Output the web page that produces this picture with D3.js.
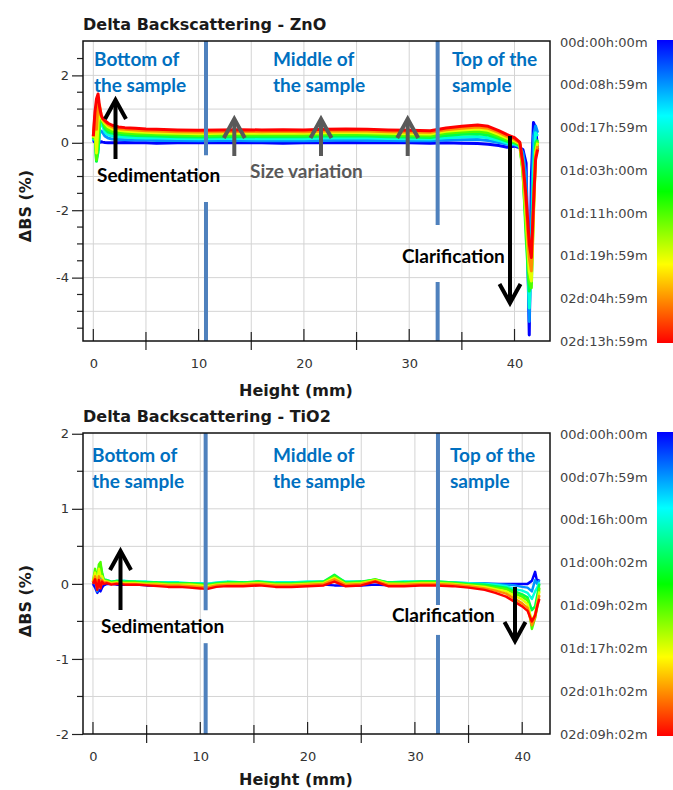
<!DOCTYPE html>
<html>
<head>
<meta charset="utf-8">
<script src="https://cdn.jsdelivr.net/npm/d3@7"></script>
<style>
body { margin: 0; background: #fff; }
svg { display: block; }
.ttl { font-family: "DejaVu Sans", sans-serif; font-weight: bold; font-size: 16px; fill: #1a1a1a; }
.axlab { font-family: "DejaVu Sans", sans-serif; font-weight: bold; font-size: 16px; fill: #1a1a1a; }
.tick text { font-family: "DejaVu Sans", sans-serif; font-size: 13px; fill: #333; }
.tl { font-family: "DejaVu Sans", sans-serif; font-size: 13px; fill: #444; }
.note { font-family: Lato, sans-serif; font-weight: bold; font-size: 19px; }
</style>
</head>
<body>
<svg width="673" height="790"></svg>
<script>
// ---- ZnO profiles (height in mm, delta BS in %) ----
var zno_heights = [0, 0.15, 0.3, 0.45, 0.6, 0.75, 0.9, 1.1, 1.4, 1.8, 2.4, 3, 4, 5, 6, 8, 10, 12, 14, 16, 18, 20, 22, 24, 26, 28, 30, 32, 33.5, 35, 36.5, 37.5, 38.5, 39.3, 40, 40.5, 40.8, 41.1, 41.4, 41.6, 41.8, 42, 42.2];
var zno_p0 = [0.0, 0.05, -0.1, -0.05, 0.02, 0.03, 0.02, 0.01, 0.0, 0.0, 0.0, 0.01, 0.0, 0.0, -0.01, 0.0, 0.0, 0.01, 0.0, 0.0, -0.01, 0.0, 0.0, 0.01, 0.0, 0.0, 0.0, -0.01, 0.0, -0.01, -0.02, -0.04, -0.08, -0.13, -0.1, -0.15, -0.2, -0.6, -5.7, -1.0, 0.6, 0.45, -0.2];
var zno_p1 = [0.05, 0.2, -0.3, -0.2, 0.3, 0.35, 0.3, 0.2, 0.14, 0.11, 0.1, 0.09, 0.08, 0.08, 0.07, 0.07, 0.06, 0.07, 0.07, 0.06, 0.07, 0.06, 0.07, 0.08, 0.07, 0.07, 0.06, 0.06, 0.08, 0.09, 0.1, 0.07, 0.01, -0.04, -0.06, -0.12, -0.3, -1.0, -5.3, -2.5, 0.2, 0.5, 0.3];
var zno_p2 = [0.08, 0.3, -0.45, -0.3, 0.5, 0.6, 0.48, 0.32, 0.24, 0.2, 0.18, 0.17, 0.15, 0.14, 0.14, 0.13, 0.12, 0.13, 0.13, 0.12, 0.13, 0.12, 0.14, 0.15, 0.14, 0.13, 0.12, 0.11, 0.15, 0.17, 0.19, 0.15, 0.07, -0.01, -0.03, -0.1, -0.5, -2.0, -4.9, -3.5, -0.8, 0.3, 0.2];
var zno_p3 = [0.1, 0.4, -0.55, -0.2, 0.65, 0.72, 0.6, 0.42, 0.32, 0.28, 0.25, 0.24, 0.22, 0.21, 0.2, 0.18, 0.17, 0.18, 0.19, 0.18, 0.19, 0.18, 0.2, 0.21, 0.2, 0.18, 0.17, 0.16, 0.22, 0.25, 0.27, 0.23, 0.13, 0.04, 0.0, -0.08, -0.8, -2.8, -4.4, -4.0, -1.6, 0.0, 0.1];
var zno_p4 = [0.12, 0.5, -0.5, 0.1, 0.8, 0.7, 0.62, 0.5, 0.4, 0.34, 0.31, 0.29, 0.27, 0.26, 0.25, 0.23, 0.22, 0.23, 0.24, 0.23, 0.24, 0.23, 0.25, 0.26, 0.25, 0.23, 0.22, 0.21, 0.28, 0.32, 0.34, 0.3, 0.19, 0.09, 0.03, -0.05, -0.9, -2.5, -4.1, -4.3, -2.0, -0.2, 0.05];
var zno_p5 = [0.15, 0.6, -0.3, 0.6, 1.0, 0.75, 0.66, 0.58, 0.48, 0.41, 0.37, 0.35, 0.33, 0.31, 0.3, 0.28, 0.27, 0.28, 0.29, 0.28, 0.29, 0.28, 0.3, 0.31, 0.3, 0.28, 0.27, 0.26, 0.34, 0.38, 0.41, 0.37, 0.25, 0.14, 0.06, -0.03, -0.8, -2.2, -3.8, -4.1, -2.2, -0.3, 0.0];
var zno_p6 = [0.18, 0.8, 0.4, 1.2, 1.1, 0.8, 0.7, 0.62, 0.54, 0.47, 0.42, 0.4, 0.38, 0.36, 0.35, 0.33, 0.32, 0.33, 0.34, 0.33, 0.34, 0.33, 0.35, 0.36, 0.35, 0.33, 0.32, 0.31, 0.39, 0.43, 0.47, 0.43, 0.31, 0.19, 0.1, 0.0, -0.7, -1.9, -3.4, -3.8, -2.0, -0.4, -0.1];
var zno_p7 = [0.2, 0.9, 1.3, 1.45, 1.05, 0.82, 0.72, 0.66, 0.58, 0.52, 0.47, 0.45, 0.43, 0.41, 0.4, 0.38, 0.37, 0.38, 0.39, 0.38, 0.39, 0.38, 0.4, 0.41, 0.4, 0.38, 0.37, 0.36, 0.44, 0.49, 0.53, 0.49, 0.36, 0.24, 0.15, 0.02, -0.6, -1.6, -3.0, -3.4, -1.8, -0.5, -0.2];
var zno_times = ['00d:00h:00m', '00d:08h:59m', '00d:17h:59m', '01d:03h:00m', '01d:11h:00m', '01d:19h:59m', '02d:04h:59m', '02d:13h:59m'];
var zno_yticks = [2, 0, -2, -4];

// ---- TiO2 profiles ----
var tio2_heights = [0, 0.2, 0.4, 0.55, 0.7, 0.85, 1.0, 1.3, 1.7, 2.2, 3, 4, 5, 6, 7, 8, 9, 10, 10.6, 11.5, 12.5, 14, 15.5, 17, 18.5, 20, 21.5, 22.5, 23.5, 25, 26.3, 27.5, 29, 30.5, 32, 33.5, 35, 36.5, 37.5, 38.5, 39.3, 40, 40.5, 40.9, 41.2, 41.4, 41.6];
var tio2_p0 = [0.0, -0.05, -0.12, -0.08, -0.1, -0.05, -0.02, 0.0, 0.0, -0.01, -0.01, -0.01, -0.02, -0.02, -0.02, -0.02, -0.02, -0.02, -0.03, -0.02, -0.02, -0.02, -0.01, -0.02, -0.02, -0.02, -0.01, -0.02, -0.02, -0.02, -0.01, -0.02, -0.02, -0.01, -0.01, -0.01, -0.01, 0.0, 0.0, 0.0, 0.0, 0.0, 0.0, 0.04, 0.16, 0.02, 0.06];
var tio2_p1 = [0.0, 0.04, -0.1, 0.08, 0.1, 0.05, 0.03, 0.03, 0.02, 0.03, 0.03, 0.02, 0.02, 0.02, 0.01, 0.01, 0.01, 0.01, 0.0, 0.01, 0.02, 0.02, 0.02, 0.01, 0.02, 0.02, 0.02, 0.06, 0.02, 0.02, 0.03, 0.02, 0.02, 0.02, 0.02, 0.02, 0.01, 0.01, 0.0, -0.01, -0.02, -0.04, -0.05, -0.1, 0.05, 0.0, 0.05];
var tio2_p2 = [0.01, 0.08, -0.06, 0.15, 0.18, 0.1, 0.05, 0.05, 0.03, 0.04, 0.04, 0.03, 0.03, 0.02, 0.02, 0.02, 0.01, 0.01, 0.0, 0.02, 0.03, 0.02, 0.03, 0.02, 0.02, 0.03, 0.03, 0.1, 0.03, 0.03, 0.05, 0.02, 0.03, 0.03, 0.03, 0.02, 0.01, 0.0, -0.01, -0.03, -0.07, -0.09, -0.12, -0.2, -0.1, -0.05, 0.02];
var tio2_p3 = [0.02, 0.12, -0.02, 0.22, 0.25, 0.15, 0.06, 0.05, 0.03, 0.04, 0.03, 0.03, 0.02, 0.02, 0.01, 0.01, 0.01, 0.0, -0.01, 0.01, 0.02, 0.02, 0.03, 0.01, 0.01, 0.02, 0.03, 0.12, 0.02, 0.03, 0.06, 0.02, 0.02, 0.03, 0.03, 0.02, 0.0, -0.01, -0.03, -0.05, -0.1, -0.14, -0.18, -0.35, -0.3, -0.15, 0.0];
var tio2_p4 = [0.03, 0.2, 0.05, 0.26, 0.29, 0.12, 0.05, 0.04, 0.02, 0.03, 0.02, 0.02, 0.01, 0.01, 0.0, 0.0, 0.0, -0.01, -0.02, 0.0, 0.01, 0.01, 0.02, 0.0, 0.0, 0.01, 0.02, 0.1, 0.01, 0.02, 0.06, 0.01, 0.01, 0.02, 0.02, 0.01, -0.01, -0.03, -0.05, -0.07, -0.13, -0.17, -0.22, -0.6, -0.45, -0.3, -0.05];
var tio2_p5 = [0.03, 0.15, 0.0, 0.2, 0.1, 0.1, 0.04, 0.03, 0.01, 0.02, 0.01, 0.01, 0.0, 0.0, -0.01, -0.01, -0.01, -0.02, -0.03, -0.01, 0.0, 0.0, 0.01, -0.01, -0.01, 0.0, 0.01, 0.08, 0.0, 0.01, 0.05, 0.0, 0.0, 0.01, 0.01, 0.0, -0.02, -0.04, -0.07, -0.1, -0.16, -0.21, -0.27, -0.5, -0.4, -0.25, -0.1];
var tio2_p6 = [0.02, 0.1, -0.05, 0.1, 0.0, 0.05, 0.02, 0.02, 0.0, 0.01, 0.0, 0.0, -0.01, -0.01, -0.02, -0.02, -0.03, -0.04, -0.05, -0.02, -0.01, -0.01, 0.0, -0.02, -0.02, -0.01, 0.0, 0.06, -0.01, 0.0, 0.04, -0.01, -0.01, 0.0, 0.0, -0.01, -0.03, -0.06, -0.09, -0.13, -0.2, -0.26, -0.32, -0.55, -0.45, -0.28, -0.15];
var tio2_p7 = [0.0, 0.06, -0.08, 0.05, -0.06, 0.03, 0.0, 0.01, -0.01, 0.0, -0.01, -0.01, -0.02, -0.03, -0.04, -0.04, -0.05, -0.06, -0.07, -0.04, -0.03, -0.03, -0.02, -0.04, -0.04, -0.03, -0.02, 0.03, -0.03, -0.02, 0.03, -0.03, -0.03, -0.02, -0.02, -0.03, -0.05, -0.08, -0.12, -0.17, -0.24, -0.3, -0.36, -0.5, -0.42, -0.3, -0.2];
var tio2_times = ['00d:00h:00m', '00d:07h:59m', '00d:16h:00m', '01d:00h:02m', '01d:09h:02m', '01d:17h:02m', '02d:01h:02m', '02d:09h:02m'];
var tio2_yticks = [2, 1, 0, -1, -2];

var x_ticks = [0, 10, 20, 30, 40];

var svg = d3.select('svg');

// time colour scale, same for the curves and the legend bar
var color = d3.scaleLinear()
    .domain([0, 0.25, 0.5, 0.74, 0.87, 1])
    .range(["#0000ff", "#00ffff", "#00ff00", "#ffff00", "#ff8000", "#ff0000"]);

var defs = svg.append('defs');
var grad = defs.append('linearGradient').attr('id', 'tbar')
    .attr('x1', 0).attr('y1', 0).attr('x2', 0).attr('y2', 1);
grad.selectAll('stop').data(color.domain()).enter().append('stop')
    .attr('offset', d => d)
    .attr('stop-color', d => color(d));

function arrow(g, x, y1, y2, col, w) {
    // shaft from y1 to tip y2, open chevron head
    var dir = y2 < y1 ? 1 : -1;
    g.append('line').attr('x1', x).attr('x2', x).attr('y1', y1).attr('y2', y2 + dir * 1)
        .attr('stroke', col).attr('stroke-width', w);
    g.append('path')
        .attr('d', `M${x - 10.5},${y2 + dir * 19}L${x},${y2}L${x + 10.5},${y2 + dir * 19}`)
        .attr('fill', 'none').attr('stroke', col).attr('stroke-width', w)
        .attr('stroke-linejoin', 'miter');
}

function panel(o) {
    var left = 83, right = 550;
    var x = d3.scaleLinear().domain(o.xdom).range([left, right]);
    var y = d3.scaleLinear().domain(o.ydom).range([o.bottom, o.top]);
    var g = svg.append('g');

    // grid
    g.selectAll('.gx').data(d3.range(0, 45, 5)).enter().append('line')
        .attr('x1', d => x(d)).attr('x2', d => x(d))
        .attr('y1', o.top).attr('y2', o.bottom)
        .attr('stroke', '#d4d4d4').attr('stroke-width', 1);
    g.selectAll('.gy').data(o.grid).enter().append('line')
        .attr('x1', left).attr('x2', right)
        .attr('y1', d => y(d)).attr('y2', d => y(d))
        .attr('stroke', '#d4d4d4').attr('stroke-width', 1);

    // curves
    var cid = 'clip' + o.id;
    defs.append('clipPath').attr('id', cid).append('rect')
        .attr('x', left).attr('y', o.top).attr('width', right - left).attr('height', o.bottom - o.top);
    var line = d3.line().x((d, i) => x(o.heights[i])).y(d => y(d));
    g.append('g').attr('clip-path', `url(#${cid})`)
        .selectAll('path').data(o.profiles).enter().append('path')
        .attr('d', d => line(d))
        .attr('fill', 'none')
        .attr('stroke', (d, i) => color(i / (o.profiles.length - 1)))
        .attr('stroke-width', o.sw)
        .attr('stroke-linejoin', 'round');

    // zone dividers
    o.dividers.forEach(dv => {
        dv.segs.forEach(s => {
            g.append('line').attr('x1', x(dv.at)).attr('x2', x(dv.at))
                .attr('y1', y(s[0])).attr('y2', y(s[1]))
                .attr('stroke', '#4f81bd').attr('stroke-width', 4);
        });
    });

    // x ticks: major inside, minor across the axis
    g.selectAll('.xt').data(d3.range(0, 45, 5)).enter().append('line')
        .attr('x1', d => x(d)).attr('x2', d => x(d))
        .attr('y1', d => d % 10 == 0 ? o.bottom - 12 : o.bottom - 9)
        .attr('y2', d => d % 10 == 0 ? o.bottom : o.bottom + 9)
        .attr('stroke', '#222').attr('stroke-width', 1.2);
    g.selectAll('.yt').data(o.minor).enter().append('line')
        .attr('x1', left - 6).attr('x2', left)
        .attr('y1', d => y(d)).attr('y2', d => y(d))
        .attr('stroke', '#222').attr('stroke-width', 1.2);

    var xAxis = d3.axisBottom(x).tickValues(x_ticks).tickSize(0).tickPadding(18);
    var yAxis = d3.axisLeft(y).tickValues(o.yticks).tickSize(11).tickPadding(3).tickFormat(d => String(d));
    var xg = g.append('g').attr('transform', `translate(0,${o.bottom})`).call(xAxis);
    var yg = g.append('g').attr('transform', `translate(${left},0)`).call(yAxis);
    xg.select('.domain').remove();
    yg.select('.domain').remove();
    yg.selectAll('.tick line').attr('stroke', '#222').attr('stroke-width', 1.2);

    // frame
    g.append('rect').attr('x', left).attr('y', o.top).attr('width', right - left).attr('height', o.bottom - o.top)
        .attr('fill', 'none').attr('stroke', '#111').attr('stroke-width', 1.5);

    g.append('text').attr('class', 'ttl').attr('x', left).attr('y', o.top - 11).text(o.title);
    g.append('text').attr('class', 'axlab').attr('x', 296).attr('y', Math.min(o.bottom + 55, 785))
        .attr('text-anchor', 'middle').text('Height (mm)');
    g.append('text').attr('class', 'axlab')
        .attr('transform', `translate(31,${o.ylabY}) rotate(-90)`)
        .attr('text-anchor', 'middle').text('ΔBS (%)');

    // legend
    g.append('rect').attr('x', 657).attr('y', o.top - 1).attr('width', 20).attr('height', o.bottom - o.top + 3)
        .attr('fill', 'url(#tbar)');
    var ly = d3.scaleLinear().domain([0, o.times.length - 1]).range([o.top + 1, o.bottom]);
    g.selectAll('.tl').data(o.times).enter().append('text').attr('class', 'tl')
        .attr('x', 560).attr('y', (d, i) => ly(i)).attr('dy', '0.36em').text(d => d);

    // notes
    o.notes.forEach(n => {
        g.append('text').attr('class', 'note').attr('x', n[0]).attr('y', n[1])
            .attr('fill', n[3]).text(n[2]);
    });
    o.arrows.forEach(a => arrow(g, a[0], a[1], a[2], a[3], 4));
}

var blue = '#0070c0';

panel({
    id: 1, top: 41, bottom: 341,
    xdom: [-0.98, 43.37], ydom: [-5.88, 3.02],
    grid: [-5, -4, -3, -2, -1, 0, 1, 2],
    minor: [-5.5, -5, -4.5, -3.5, -3, -2.5, -1.5, -1, -0.5, 0.5, 1, 1.5, 2.5],
    yticks: zno_yticks, ylabY: 206,
    heights: zno_heights,
    profiles: [zno_p0, zno_p1, zno_p2, zno_p3, zno_p4, zno_p5, zno_p6, zno_p7],
    sw: 3,
    times: zno_times,
    title: 'Delta Backscattering - ZnO',
    dividers: [{ at: 10.7, segs: [[3.02, -0.37], [-1.76, -5.88]] },
               { at: 32.7, segs: [[3.02, -2.44], [-4.13, -5.88]] }],
    notes: [[94, 66, 'Bottom of', blue], [94, 92, 'the sample', blue],
            [273, 66, 'Middle of', blue], [273, 92, 'the sample', blue],
            [452, 66, 'Top of the', blue], [452, 92, 'sample', blue],
            [97, 182, 'Sedimentation', '#000'], [250, 178, 'Size variation', '#595959'],
            [402, 263, 'Clarification', '#000']],
    arrows: [[115.5, 159, 100, '#000'], [234.3, 156, 119, '#595959'], [321, 156, 119, '#595959'],
             [407.7, 156, 119, '#595959'], [510, 136, 303, '#000']]
});

panel({
    id: 2, top: 433, bottom: 734,
    xdom: [-0.93, 42.59], ydom: [-2, 2.01],
    grid: [-1.5, -1, -0.5, 0, 0.5, 1, 1.5],
    minor: [-1.5, -0.5, 0.5, 1.5],
    yticks: tio2_yticks, ylabY: 601,
    heights: tio2_heights,
    profiles: [tio2_p0, tio2_p1, tio2_p2, tio2_p3, tio2_p4, tio2_p5, tio2_p6, tio2_p7],
    sw: 2.5,
    times: tio2_times,
    title: 'Delta Backscattering - TiO2',
    dividers: [{ at: 10.5, segs: [[2.01, -0.35], [-0.79, -2]] },
               { at: 32.15, segs: [[2.01, -0.28], [-0.68, -2]] }],
    notes: [[92, 462, 'Bottom of', blue], [92, 488, 'the sample', blue],
            [273, 462, 'Middle of', blue], [273, 488, 'the sample', blue],
            [450, 462, 'Top of the', blue], [450, 488, 'sample', blue],
            [101, 633, 'Sedimentation', '#000'], [392, 622, 'Clarification', '#000']],
    arrows: [[120.5, 610, 551, '#000'], [515, 587, 641, '#000']]
});
</script>
</body>
</html>
